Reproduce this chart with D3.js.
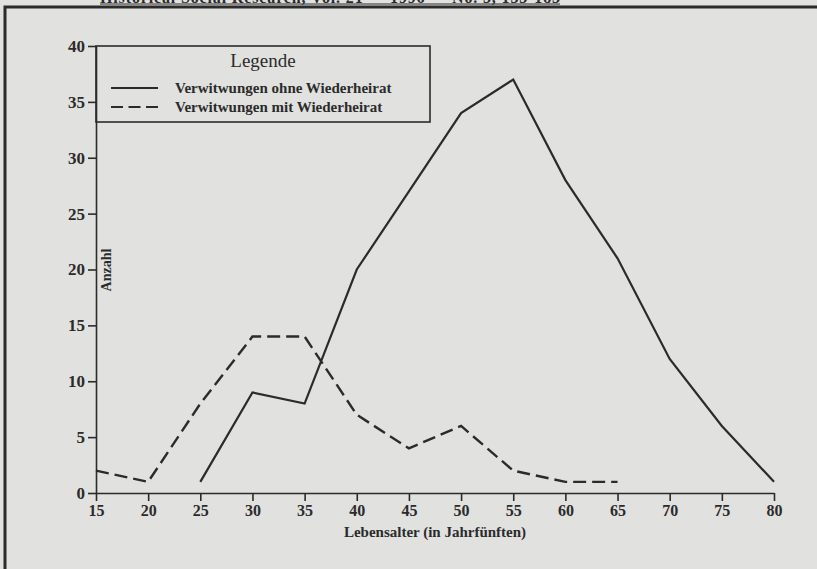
<!DOCTYPE html>
<html>
<head>
<meta charset="utf-8">
<script src="https://cdn.jsdelivr.net/npm/d3@7"></script>
<style>
  body { margin: 0; background: #e1e1df; }
  svg { display: block; }
</style>
</head>
<body>
<script>
// data
var ages = [15, 20, 25, 30, 35, 40, 45, 50, 55, 60, 65, 70, 75, 80];
var ohneAges = [25, 30, 35, 40, 45, 50, 55, 60, 65, 70, 75, 80];
var ohneValues = [1, 9, 8, 20, 27, 34, 37, 28, 21, 12, 6, 1];
var mitAges = [15, 20, 25, 30, 35, 40, 45, 50, 55, 60, 65];
var mitValues = [2, 1, 8, 14, 14, 7, 4, 6, 2, 1, 1];
var yTicks = [0, 5, 10, 15, 20, 25, 30, 35, 40];
var legendLabels = ["Verwitwungen ohne Wiederheirat", "Verwitwungen mit Wiederheirat"];

var W = 817, H = 569;
var ink = "#2b2b2b";
var font = "'Liberation Serif', 'Times New Roman', serif";

var svg = d3.select("body").append("svg")
    .attr("width", W)
    .attr("height", H);

// page header (cut off at the top of the scan, as in the original)
svg.append("text")
    .attr("x", 100).attr("y", 3)
    .attr("font-family", font).attr("font-size", 16).attr("font-weight", "bold")
    .attr("textLength", 460)
    .attr("fill", ink)
    .text("Historical Social Research, Vol. 21 — 1996 — No. 3, 153-183");
svg.append("line")
    .attr("x1", 100).attr("x2", 560).attr("y1", 4).attr("y2", 4)
    .attr("stroke", ink).attr("stroke-width", 1);

// frame round the figure
svg.append("path")
    .attr("d", "M" + 5 + "," + H + "V" + 7 + "H" + W)
    .attr("fill", "none").attr("stroke", ink).attr("stroke-width", 3);

// scales
var x = d3.scaleLinear().domain([15, 80]).range([96, 774]);
var y = d3.scaleLinear().domain([0, 40]).range([493, 46]);

// y axis
var gy = svg.append("g")
    .attr("transform", "translate(96,0)")
    .call(d3.axisLeft(y).tickValues(yTicks).tickSize(8).tickPadding(3).tickSizeOuter(0));
gy.select(".domain").attr("stroke", ink).attr("stroke-width", 1.6);
gy.selectAll(".tick line").attr("stroke", ink).attr("stroke-width", 1.6);
gy.selectAll(".tick text")
    .attr("font-family", font).attr("font-size", 17).attr("font-weight", "bold")
    .attr("fill", ink);

// x axis
var gx = svg.append("g")
    .attr("transform", "translate(0,493)")
    .call(d3.axisBottom(x).tickValues(ages).tickSize(8).tickPadding(4).tickSizeOuter(0));
gx.select(".domain").attr("stroke", ink).attr("stroke-width", 1.6);
gx.selectAll(".tick line").attr("stroke", ink).attr("stroke-width", 1.6);
gx.selectAll(".tick text")
    .attr("font-family", font).attr("font-size", 16).attr("font-weight", "bold")
    .attr("fill", ink);

// axis titles
svg.append("text")
    .attr("x", (x.range()[0] + x.range()[1]) / 2).attr("y", 537)
    .attr("text-anchor", "middle")
    .attr("font-family", font).attr("font-size", 15).attr("font-weight", "bold")
    .attr("fill", ink)
    .text("Lebensalter (in Jahrfünften)");

svg.append("text")
    .attr("transform", "translate(111,270) rotate(-90)")
    .attr("text-anchor", "middle")
    .attr("font-family", font).attr("font-size", 14).attr("font-weight", "bold")
    .attr("fill", ink)
    .text("Anzahl");

// lines
var line = d3.line()
    .x(function(d) { return x(d[0]); })
    .y(function(d) { return y(d[1]); });

svg.append("path")
    .datum(d3.zip(ohneAges, ohneValues))
    .attr("d", line)
    .attr("fill", "none").attr("stroke", ink).attr("stroke-width", 2.2)
    .attr("stroke-linejoin", "miter");

svg.append("path")
    .datum(d3.zip(mitAges, mitValues))
    .attr("d", line)
    .attr("fill", "none").attr("stroke", ink).attr("stroke-width", 2.4)
    .attr("stroke-dasharray", "13,6");

// legend
var lg = svg.append("g");
lg.append("rect")
    .attr("x", 96).attr("y", 46).attr("width", 334).attr("height", 76)
    .attr("fill", "none").attr("stroke", ink).attr("stroke-width", 1.6);
lg.append("text")
    .attr("x", 263).attr("y", 67)
    .attr("text-anchor", "middle")
    .attr("font-family", font).attr("font-size", 19)
    .attr("fill", ink)
    .text("Legende");
legendLabels.forEach(function(lab, i) {
    var ly = 88 + i * 19;
    lg.append("line")
        .attr("x1", 111).attr("x2", 158).attr("y1", ly).attr("y2", ly)
        .attr("stroke", ink).attr("stroke-width", 2)
        .attr("stroke-dasharray", i === 0 ? null : "12,5.5");
    lg.append("text")
        .attr("x", 175).attr("y", ly + 5)
        .attr("font-family", font).attr("font-size", 15).attr("font-weight", "bold")
        .attr("fill", ink)
        .text(lab);
});
</script>
</body>
</html>
